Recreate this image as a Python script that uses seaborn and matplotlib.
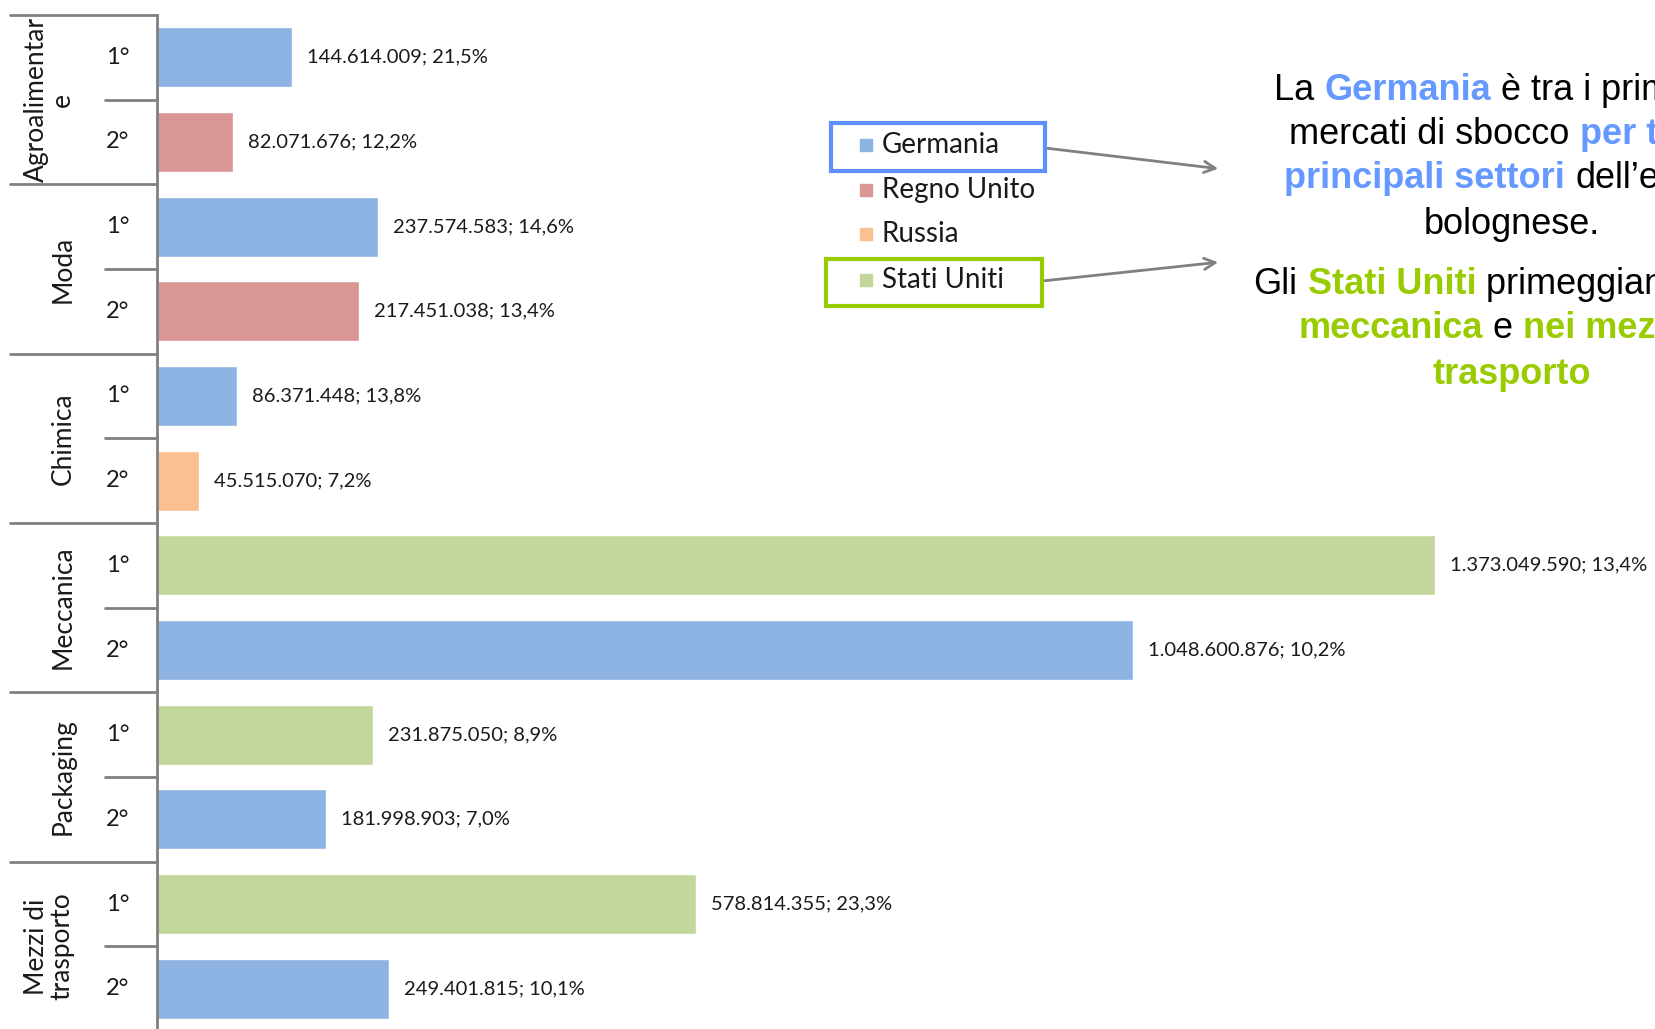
import matplotlib
import matplotlib.pyplot as plt
import matplotlib.transforms as mtransforms
from matplotlib.patches import Rectangle, FancyArrowPatch
import pandas as pd
import seaborn as sns

matplotlib.use('Agg')

# dati: primi due mercati di sbocco per settore
settori = ['Agroalimentar\ne', 'Moda', 'Chimica', 'Meccanica', 'Packaging',
           'Mezzi di\ntrasporto']
posizioni = ['1°', '2°']
paesi = ['Germania', 'Regno Unito', 'Germania', 'Regno Unito', 'Germania',
         'Russia', 'Stati Uniti', 'Germania', 'Stati Uniti', 'Germania',
         'Stati Uniti', 'Germania']
valori = [144614009, 82071676, 237574583, 217451038, 86371448, 45515070,
          1373049590, 1048600876, 231875050, 181998903, 578814355, 249401815]
quote = ['21,5%', '12,2%', '14,6%', '13,4%', '13,8%', '7,2%', '13,4%',
         '10,2%', '8,9%', '7,0%', '23,3%', '10,1%']
legenda = ['Germania', 'Regno Unito', 'Russia', 'Stati Uniti']
colori = ['#8db3e2', '#d99694', '#fac08f', '#c3d69b']

W, H = 1655, 1029
BLU = '#6699ff'
VERDE = '#99cc00'
GRIGIO = '#808080'
TESTO = '#1a1a1a'


def px(x, y):
    '''pixel (origine in alto a sinistra) -> frazione della figura'''
    return x / W, 1 - y / H


df = pd.DataFrame({'riga': [str(i) for i in range(len(valori))],
                   'valore': valori, 'paese': paesi})

sns.set_style('white')
plt.rcParams['font.family'] = ['Lato', 'DejaVu Sans']

fig = plt.figure(figsize=(W / 100, H / 100), dpi=100)
ax = fig.add_axes([157 / W, 1 - 1031 / H, (W - 157) / W, (1031 - 15) / H])

sns.barplot(data=df, x='valore', y='riga', hue='paese', hue_order=legenda,
            palette=colori, dodge=False, width=0.71, saturation=1,
            legend=False, ax=ax)

ax.set_xlim(0, 1.609e9)
ax.set_ylim(11.5, -0.5)
ax.set_xlabel('')
ax.set_ylabel('')
ax.set_xticks([])
ax.set_yticks([])
for s in ['top', 'right', 'bottom']:
    ax.spines[s].set_visible(False)
ax.spines['left'].set_color(GRIGIO)
ax.spines['left'].set_linewidth(2)

# etichette dei valori
for i, (v, q) in enumerate(zip(valori, quote)):
    txt = '{:,}'.format(v).replace(',', '.') + '; ' + q
    ax.annotate(txt, (v, i), xytext=(15, 0), textcoords='offset pixels',
                va='center', ha='left', fontsize=14.5, color=TESTO)

# struttura dell'asse a due livelli
trans = mtransforms.blended_transform_factory(fig.transFigure, ax.transData)
for g in range(len(settori) + 1):
    ax.plot([10 / W, 157 / W], [2 * g - 0.5] * 2, color=GRIGIO, lw=2,
            transform=trans, clip_on=False)
for g in range(len(settori)):
    ax.plot([105 / W, 157 / W], [2 * g + 0.5] * 2, color=GRIGIO, lw=2,
            transform=trans, clip_on=False)
    for k, p in enumerate(posizioni):
        ax.text(118 / W, 2 * g + k, p, transform=trans, ha='center',
                va='center', fontsize=17, color=TESTO)
    xg = 49 if '\n' in settori[g] else 63
    ax.text(xg / W, 2 * g + 0.5, settori[g], transform=trans, rotation=90,
            ha='center', va='center', fontsize=19, color=TESTO,
            multialignment='center', linespacing=1.05)

# legenda
ly = [145, 190, 234, 280]
for nome, col, y in zip(legenda, colori, ly):
    x0, y0 = px(860, y + 6)
    fig.patches.append(Rectangle((x0, y0), 12 / W, 12 / H, color=col,
                                 transform=fig.transFigure, figure=fig))
    fig.text(*px(882, y), nome, fontsize=20, va='center', ha='left',
             color=TESTO)

for (x1, y1, x2, y2), col in [((831, 123, 1045, 171), '#5f8ffb'),
                              ((826, 259, 1042, 306), VERDE)]:
    x0, y0 = px(x1, y2)
    fig.patches.append(Rectangle((x0, y0), (x2 - x1) / W, (y2 - y1) / H,
                                 fill=False, ec=col, lw=3,
                                 transform=fig.transFigure, figure=fig))

for a, b in [((1045, 148), (1221, 169)), ((1042, 281), (1221, 262))]:
    fig.add_artist(FancyArrowPatch(
        px(*a), px(*b), transform=fig.transFigure, arrowstyle='->',
        mutation_scale=20, color=GRIGIO, lw=2))

# testo di commento (tagliato dal bordo destro come nell'originale)
righe = [
    (90, [('La', 'k', False), ('Germania', BLU, True),
          ('è tra i primi due', 'k', False)]),
    (135, [('mercati di sbocco', 'k', False), ('per tutti i', BLU, True)]),
    (179, [('principali settori', BLU, True), ('dell\u2019export', 'k', False)]),
    (224, [('bolognese.', 'k', False)]),
    (285, [('Gli', 'k', False), ('Stati Uniti', VERDE, True),
           ('primeggiano nella', 'k', False)]),
    (329, [('meccanica', VERDE, True), ('e', 'k', False),
           ('nei mezzi di', VERDE, True)]),
    (374, [('trasporto', VERDE, True)]),
]
fam = ['Liberation Sans', 'DejaVu Sans']
fs = 26

r = fig.canvas.get_renderer()
sp1 = fig.text(0, 0, 'x x', fontsize=fs, family=fam)
sp2 = fig.text(0, 0, 'xx', fontsize=fs, family=fam)
spazio = sp1.get_window_extent(r).width - sp2.get_window_extent(r).width
sp1.remove()
sp2.remove()
for y, pezzi in righe:
    testi = []
    for s, c, b in pezzi:
        testi.append(fig.text(0, px(0, y)[1], s, color=c, fontsize=fs,
                              family=fam, va='center', ha='left',
                              fontweight='bold' if b else 'normal'))
    larg = [t.get_window_extent(r).width for t in testi]
    tot = sum(larg) + spazio * (len(testi) - 1)
    x = 1512 - tot / 2
    for t, w in zip(testi, larg):
        t.set_x(x / W)
        x += w + spazio

fig.savefig('out.png', dpi=100)
plt.close()
